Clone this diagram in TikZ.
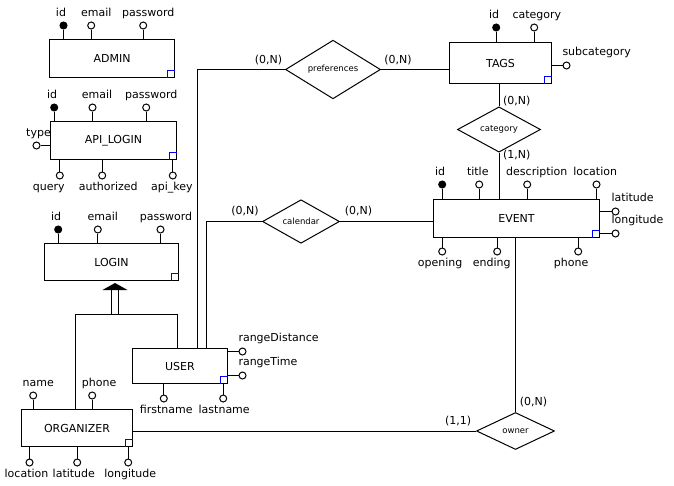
\documentclass[tikz,border=0pt]{standalone}
\usepackage{fontspec}
\setmainfont{DejaVu Sans}
\usepackage{tikz}
\usetikzlibrary{shapes.geometric,calc,positioning}

\begin{document}
\begin{tikzpicture}[
    x=1pt, y=-1pt,
    line width=1pt,
    label distance=2pt,
    entity/.style={rectangle, draw, fill=white,
                   font=\fontsize{11}{13}\selectfont},
    rel/.style={diamond, draw, fill=white, inner sep=0pt,
                font=\fontsize{8.5}{10}\selectfont},
    attr/.style={circle, draw, fill=white, inner sep=0pt, minimum size=7pt},
    key/.style={attr, fill=black},
    lbl/.style={font=\fontsize{11}{13}\selectfont, inner sep=0.5pt,
                text height=8pt, text depth=2pt},
    side/.style={lbl, anchor=south west, xshift=-5pt, yshift=1.5pt},
    card/.style={font=\fontsize{11}{13}\selectfont, inner sep=0pt},
    corner/.style={draw=blue, line width=1pt},
]
\useasboundingbox (-0.5,-0.5) rectangle (673.5,484.5);

%% ─── Entities ───────────────────────────────────────────────────────────────
\node[entity, minimum width=125pt, minimum height=38pt] (admin)     at (111.5,58)   {ADMIN};
\node[entity, minimum width=126pt, minimum height=38pt] (api_login) at (113,140)    {API\_LOGIN};
\node[entity, minimum width=134pt, minimum height=37pt] (login)     at (111,261.5)  {LOGIN};
\node[entity, minimum width=95pt,  minimum height=35pt] (user)      at (179.5,365.5){USER};
\node[entity, minimum width=111pt, minimum height=37pt] (organizer) at (76.5,427.5) {ORGANIZER};
\node[entity, minimum width=102pt, minimum height=41pt] (tags)      at (500,62.5)   {TAGS};
\node[entity, minimum width=166pt, minimum height=38pt] (event)     at (516,218)    {EVENT};

%% blue corner marks
\foreach \e in {admin,api_login,login,user,organizer,tags,event}
    \draw[corner] ($(\e.south east)+(0,-8)$) -| ($(\e.south east)+(-8,0)$);

%% ─── Relationships ──────────────────────────────────────────────────────────
\node[rel, minimum width=95pt, minimum height=46pt] (pref)  at (332.5,69)  {preferences};
\node[rel, minimum width=83pt, minimum height=40pt] (cat)   at (498.5,129) {category};
\node[rel, minimum width=77pt, minimum height=36pt] (cal)   at (300.5,221) {calendar};
\node[rel, minimum width=78pt, minimum height=37pt] (owner) at (515,430.5) {owner};

%% ─── ADMIN attributes ───────────────────────────────────────────────────────
\node[key,  label={[lbl, xshift=-2.5pt]above:id}]     (admin_id)    at (63,25)    {};
\node[attr, label={[lbl, xshift=5pt]above:email}]     (admin_email) at (90.7,25)  {};
\node[attr, label={[lbl, xshift=5pt]above:password}]  (admin_pwd)   at (142.7,25) {};

%% ─── API_LOGIN attributes ───────────────────────────────────────────────────
\node[key,  label={[lbl, xshift=-2pt]above:id}]       (api_id)    at (53.7,107)  {};
\node[attr, label={[lbl, xshift=4.5pt]above:email}]   (api_email) at (92,107)    {};
\node[attr, label={[lbl, xshift=5pt]above:password}]  (api_pwd)   at (145.7,107) {};
\node[attr, label={[lbl, xshift=2pt]above:type}]      (api_type)  at (36,145)    {};
\node[attr, label={[lbl, xshift=-11pt]below:query}]   (api_query) at (59.3,175)  {};
\node[attr, label={[lbl, xshift=6pt]below:authorized}](api_auth)  at (101.7,175) {};
\node[attr, label={[lbl, xshift=-1pt]below:api\_key}] (api_key)   at (172.3,175) {};

%% ─── LOGIN attributes ───────────────────────────────────────────────────────
\node[key,  label={[lbl, xshift=-2pt]above:id}]       (login_id)    at (57.7,229) {};
\node[attr, label={[lbl, xshift=5pt]above:email}]     (login_email) at (97.3,229) {};
\node[attr, label={[lbl, xshift=5.5pt]above:password}](login_pwd)   at (160,229)  {};

%% ─── USER attributes ────────────────────────────────────────────────────────
\node[attr, label={[side]above:rangeDistance}]          (user_dist)  at (242,351)   {};
\node[attr, label={[side]above:rangeTime}]              (user_time)  at (242,375)   {};
\node[attr, label={[lbl, xshift=2.4pt]below:firstname}] (user_first) at (163.3,398) {};
\node[attr, label={[lbl, xshift=1pt]below:lastname}]    (user_last)  at (222.7,398) {};

%% ─── ORGANIZER attributes ───────────────────────────────────────────────────
\node[attr, label={[lbl, xshift=5pt]above:name}]        (org_name)  at (32.7,395)  {};
\node[attr, label={[lbl, xshift=7pt]above:phone}]       (org_phone) at (91.7,395)  {};
\node[attr, label={[lbl, xshift=-3pt]below:location}]   (org_loc)   at (29,462)    {};
\node[attr, label={[lbl, xshift=-3.4pt]below:latitude}] (org_lat)   at (76.7,462)  {};
\node[attr, label={[lbl, xshift=2pt]below:longitude}]   (org_lon)   at (127.7,462) {};

%% ─── TAGS attributes ────────────────────────────────────────────────────────
\node[key,  label={[lbl, xshift=-2pt]above:id}]         (tags_id)  at (495.7,27) {};
\node[attr, label={[lbl, xshift=2.7pt]above:category}]  (tags_cat) at (533.7,27) {};
\node[attr, label={[side]above:subcategory}]            (tags_sub) at (566,65)   {};

%% ─── EVENT attributes ───────────────────────────────────────────────────────
\node[key,  label={[lbl, xshift=-2pt]above:id}]            (ev_id)    at (441.7,184) {};
\node[attr, label={[lbl, xshift=-1.4pt]above:title}]       (ev_title) at (478.7,184) {};
\node[attr, label={[lbl, xshift=9.6pt]above:description}]  (ev_descr) at (526.7,184) {};
\node[attr, label={[lbl, xshift=-1.3pt]above:location}]    (ev_loc)   at (596,184)   {};
\node[attr, label={[side]above:latitude}]                  (ev_lat)   at (615,211)   {};
\node[attr, label={[side]above:longitude}]                 (ev_lon)   at (615,233)   {};
\node[attr, label={[lbl, xshift=-2pt]below:opening}]       (ev_open)  at (441.7,251) {};
\node[attr, label={[lbl, xshift=-5.5pt]below:ending}]      (ev_end)   at (496.7,251) {};
\node[attr, label={[lbl, xshift=-7pt]below:phone}]         (ev_phone) at (577.7,251) {};

%% ─── Cardinalities ──────────────────────────────────────────────────────────
\node[card] (c_pref_user) at (268,60)    {(0,N)};
\node[card] (c_pref_tags) at (397.5,60)  {(0,N)};
\node[card] (c_cal_user)  at (244.5,211) {(0,N)};
\node[card] (c_cal_event) at (358,211)   {(0,N)};
\node[card] (c_cat_tags)  at (516.3,100.5) {(0,N)};
\node[card] (c_cat_event) at (516.3,154.5) {(1,N)};
\node[card] (c_own_event) at (533,402)   {(0,N)};
\node[card] (c_own_org)   at (457.7,421) {(1,1)};

%% ─── Attribute stems ────────────────────────────────────────────────────────
\draw (admin_id) -- (admin_id |- admin.north);
\draw (admin_email) -- (admin_email |- admin.north);
\draw (admin_pwd) -- (admin_pwd |- admin.north);

\draw (api_id) -- (api_id |- api_login.north);
\draw (api_email) -- (api_email |- api_login.north);
\draw (api_pwd) -- (api_pwd |- api_login.north);
\draw (api_type) -- (api_type -| api_login.west);
\draw (api_query) -- (api_query |- api_login.south);
\draw (api_auth) -- (api_auth |- api_login.south);
\draw (api_key) -- (api_key |- api_login.south);

\draw (login_id) -- (login_id |- login.north);
\draw (login_email) -- (login_email |- login.north);
\draw (login_pwd) -- (login_pwd |- login.north);

\draw (user_dist) -- (user_dist -| user.east);
\draw (user_time) -- (user_time -| user.east);
\draw (user_first) -- (user_first |- user.south);
\draw (user_last) -- (user_last |- user.south);

\draw (org_name) -- (org_name |- organizer.north);
\draw (org_phone) -- (org_phone |- organizer.north);
\draw (org_loc) -- (org_loc |- organizer.south);
\draw (org_lat) -- (org_lat |- organizer.south);
\draw (org_lon) -- (org_lon |- organizer.south);

\draw (tags_id) -- (tags_id |- tags.north);
\draw (tags_cat) -- (tags_cat |- tags.north);
\draw (tags_sub) -- (tags_sub -| tags.east);

\draw (ev_id) -- (ev_id |- event.north);
\draw (ev_title) -- (ev_title |- event.north);
\draw (ev_descr) -- (ev_descr |- event.north);
\draw (ev_loc) -- (ev_loc |- event.north);
\draw (ev_lat) -- (ev_lat -| event.east);
\draw (ev_lon) -- (ev_lon -| event.east);
\draw (ev_open) -- (ev_open |- event.south);
\draw (ev_end) -- (ev_end |- event.south);
\draw (ev_phone) -- (ev_phone |- event.south);

%% ─── Generalization USER / ORGANIZER → LOGIN ────────────────────────────────
\coordinate (isa) at (114.5,314);
\coordinate (isa_top) at ($(isa |- login.south)+(0,9)$);
\draw ([xshift=-1.5pt]organizer.north) |- (isa) -| ([xshift=-2.5pt]user.north);
\draw ($(isa)+(-3.5,0)$) -- ($(isa_top)+(-3.5,0)$);
\draw ($(isa)+(3.5,0)$)  -- ($(isa_top)+(3.5,0)$);
\fill ($(isa_top)+(-12.5,0)$) -- ($(isa_top)+(12.5,0)$)
      -- ($(isa |- login.south)+(0,2)$) -- cycle;

%% ─── Relationship links ─────────────────────────────────────────────────────
\draw ([xshift=17.5pt]user.north) |- (pref.west);
\draw (pref.east) -- (pref.east -| tags.west);
\draw ([xshift=26.5pt]user.north) |- (cal.west);
\draw (cal.east) -- (cal.east -| event.west);
\draw (cat.north) -- (cat.north |- tags.south);
\draw (cat.south) -- (cat.south |- event.north);
\draw (owner.north) -- (owner.north |- event.south);
\draw (owner.west) -- (owner.west -| organizer.east);

\end{tikzpicture}
\end{document}
